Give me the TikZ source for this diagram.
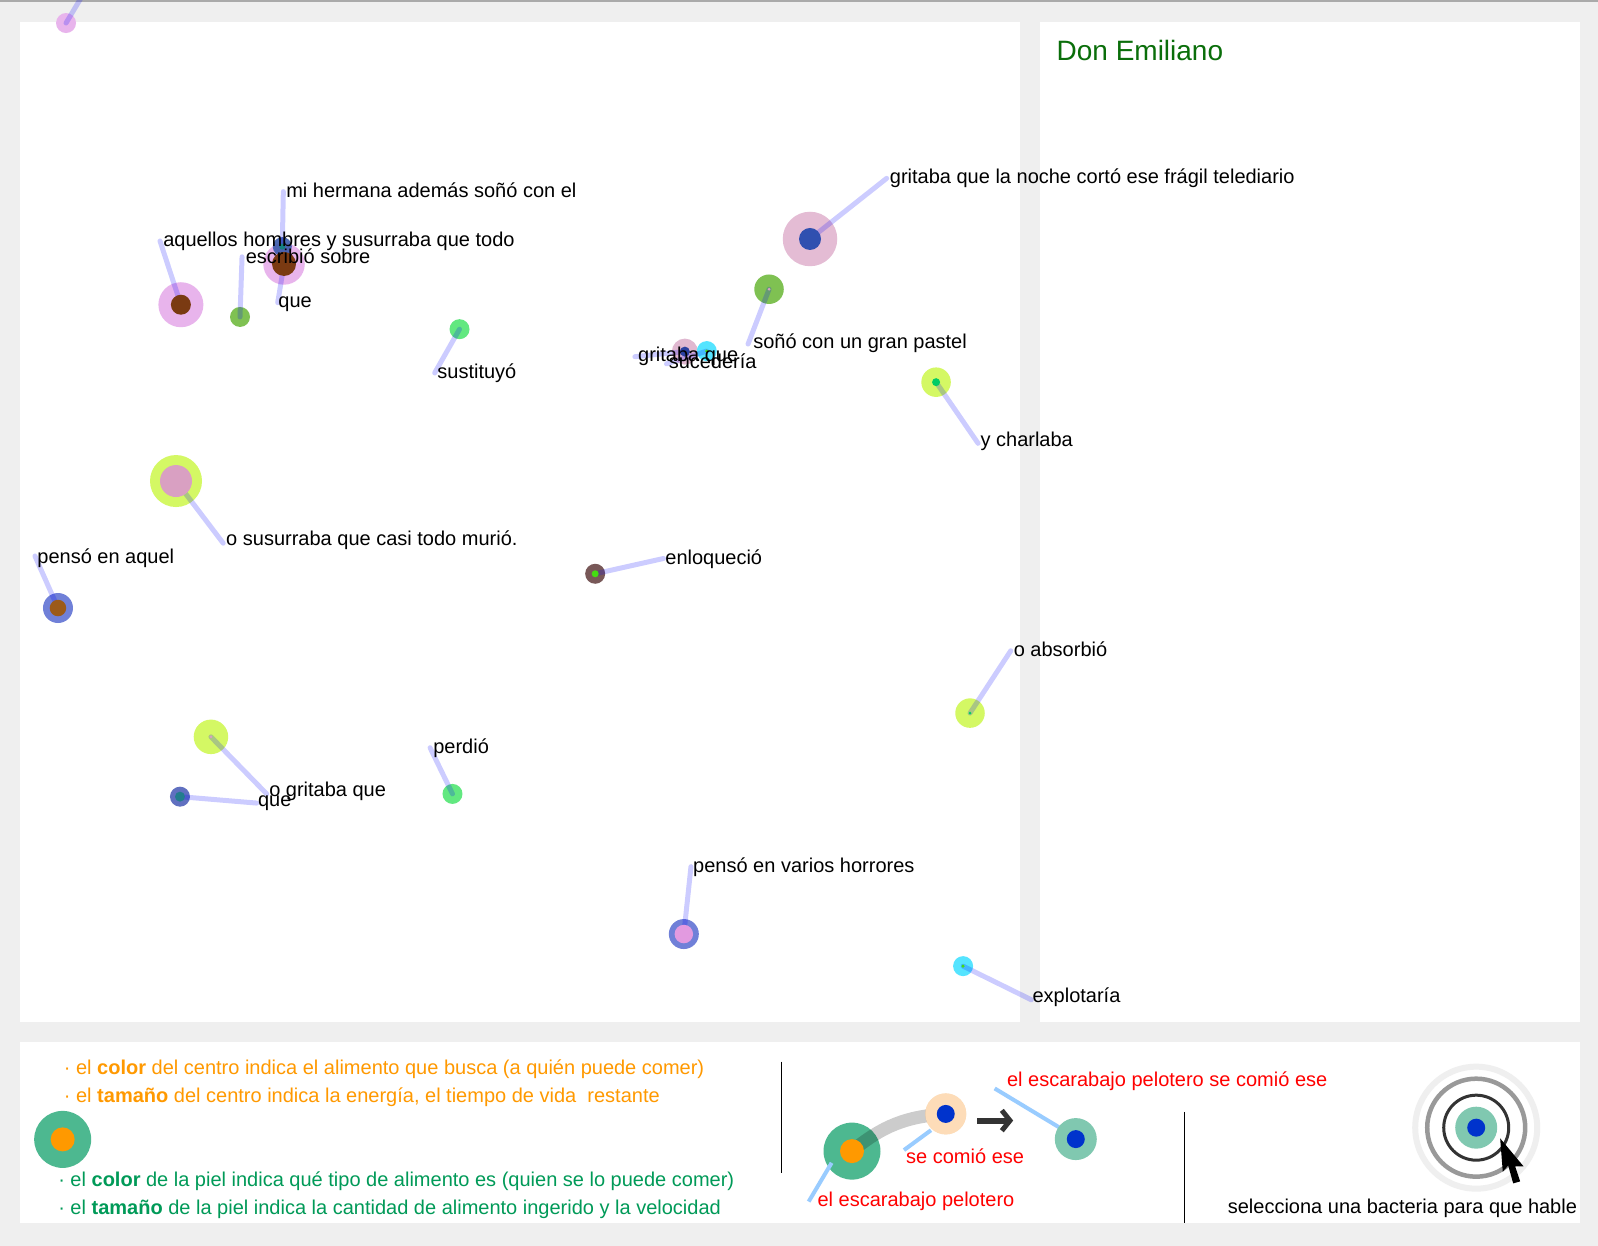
\documentclass[tikz,border=0pt]{standalone}
\usepackage{fontspec}
\setmainfont{Liberation Sans}
\definecolor{bg}{HTML}{EFEFEF}
\definecolor{topline}{HTML}{AAAAAA}
\definecolor{pinkA}{HTML}{E8B4EC}
\definecolor{pinkB}{HTML}{E4BCD4}
\definecolor{pinkC}{HTML}{E0B8D0}
\definecolor{brownCore}{HTML}{7A3A12}
\definecolor{blueSkinS}{HTML}{3A5AAA}
\definecolor{tealCore}{HTML}{138080}
\definecolor{greenS}{HTML}{7FC152}
\definecolor{brightG}{HTML}{62E880}
\definecolor{yellowG}{HTML}{D4F864}
\definecolor{pinkCore}{HTML}{D9A0C2}
\definecolor{blueSkin}{HTML}{7080D8}
\definecolor{brownCoreB}{HTML}{9C5A18}
\definecolor{pinkCoreB}{HTML}{E29AE0}
\definecolor{brownSkin}{HTML}{785858}
\definecolor{limeCore}{HTML}{44DD11}
\definecolor{cyanS}{HTML}{55E4FF}
\definecolor{blueSkinB}{HTML}{6070C0}
\definecolor{coreBlue}{HTML}{3050B0}
\definecolor{coreBlueB}{HTML}{2A40A0}
\definecolor{greenCore}{HTML}{00CC66}
\definecolor{legGreen}{HTML}{4DB890}
\definecolor{orangeC}{HTML}{FF9900}
\definecolor{peach}{HTML}{FDDCB8}
\definecolor{tealL}{HTML}{80C8B0}
\definecolor{coreB}{HTML}{0033CC}
\definecolor{lightblue}{HTML}{99CCFF}
\definecolor{txtGreen}{HTML}{009A58}
\definecolor{titleGreen}{HTML}{0A6E0A}
\definecolor{arrowGray}{HTML}{333333}
\newcommand{\bodyfont}{\fontsize{20pt}{24pt}\selectfont}
\begin{document}
\begin{tikzpicture}[x=1.0191pt,y=-1.0191pt,
  skin/.style={circle,inner sep=0pt,outer sep=0pt,draw=none},
  core/.style={circle,inner sep=0pt,outer sep=0pt,draw=none},
  link/.style={draw=blue,draw opacity=0.2,line width=5pt,line cap=round},
  lbl/.style={anchor=base west,inner sep=0pt,font=\bodyfont,text=black},
  legtxt/.style={anchor=base west,inner sep=0pt,font=\bodyfont},
  pointer/.style={draw=lightblue,line width=4pt},
  ring/.style={circle,inner sep=0pt,outer sep=0pt,fill=none},
  sepline/.style={draw=black,line width=1pt}]
\useasboundingbox (0,0) rectangle (1568,1222.6);
\fill[bg] (0,0) rectangle (1568,1222.6);
\fill[topline] (0,0) rectangle (1568,1.8);
\fill[white] (19.6,21.6) rectangle (1001,1003);
\fill[white] (1020.6,21.6) rectangle (1550,1003);
\fill[white] (19.6,1022.6) rectangle (1550,1199.8);

% ---------- skins ----------
\node[skin,fill=pinkA,minimum size=20pt] (b0) at (64.8,22.6) {};
\node[skin,fill=pinkA,minimum size=41.5pt] (b2) at (278.7,259) {};
\node[skin,fill=blueSkinS,fill opacity=0.9,minimum size=19pt] (b1) at (277,242) {};
\node[skin,fill=pinkA,minimum size=45pt] (b3) at (177.5,299) {};
\node[skin,fill=greenS,minimum size=20pt] (b4) at (235.5,311) {};
\node[skin,fill=brightG,minimum size=20pt] (b5) at (450.9,323) {};
\node[skin,fill=pinkC,minimum size=26pt] (b6) at (672,345) {};
\node[skin,fill=cyanS,minimum size=20pt] (b7) at (693.5,344.5) {};
\node[skin,fill=greenS,minimum size=29.5pt] (b8) at (754.6,283.8) {};
\node[skin,fill=pinkB,minimum size=54.5pt] (b9) at (794.8,234.5) {};
\node[skin,fill=yellowG,minimum size=29.5pt] (b10) at (918.5,375) {};
\node[skin,fill=yellowG,minimum size=52pt] (b11) at (172.7,472) {};
\node[skin,fill=blueSkin,minimum size=30pt] (b12) at (56.9,596.6) {};
\node[skin,fill=brownSkin,minimum size=20pt] (b13) at (584,563) {};
\node[skin,fill=yellowG,minimum size=29.5pt] (b14) at (951.8,699.7) {};
\node[skin,fill=brightG,minimum size=20pt] (b15) at (444,779) {};
\node[skin,fill=yellowG,minimum size=34.5pt] (b16) at (207,723) {};
\node[skin,fill=blueSkinB,minimum size=20pt] (b17) at (176.6,781.7) {};
\node[skin,fill=blueSkin,minimum size=30pt] (b18) at (671,916.5) {};
\node[skin,fill=cyanS,minimum size=20pt] (b19) at (945,948) {};

% ---------- link ends ----------
\coordinate (e0) at (82.4,-6.9);
\coordinate (e1) at (278,188);
\coordinate (e2) at (272.5,297);
\coordinate (e3) at (157,236.5);
\coordinate (e4) at (237.5,252);
\coordinate (e5) at (426.5,366);
\coordinate (e6) at (623,350);
\coordinate (e7) at (654,357);
\coordinate (e8) at (734,337.6);
\coordinate (e9) at (870,175);
\coordinate (e10) at (959.7,435);
\coordinate (e11) at (219,533);
\coordinate (e12) at (34.3,545.6);
\coordinate (e13) at (651,548);
\coordinate (e14) at (991.8,638.5);
\coordinate (e15) at (422,733.7);
\coordinate (e16) at (261.7,779);
\coordinate (e17) at (251.9,788);
\coordinate (e18) at (678,850.4);
\coordinate (e19) at (1012,981);

% ---------- links ----------
\foreach \i in {0,...,19} {\draw[link] (b\i.center) -- (e\i);}

% ---------- cores ----------
\node[core,fill=brownCore,minimum size=24pt] (c2) at (b2.center) {};
\node[core,fill=tealCore,minimum size=6pt] (c1) at (b1.center) {};
\node[core,fill=brownCore,minimum size=20pt] (c3) at (b3.center) {};
\node[core,fill=coreBlueB,minimum size=10pt] (c6) at (b6.center) {};
\node[core,fill=limeCore,minimum size=3.5pt] (c7) at (b7.center) {};
\node[core,fill=pinkCore,minimum size=3pt] (c8) at (b8.center) {};
\node[core,fill=coreBlue,minimum size=22pt] (c9) at (b9.center) {};
\node[core,fill=greenCore,minimum size=8pt] (c10) at (b10.center) {};
\node[core,fill=pinkCore,minimum size=32pt] (c11) at (b11.center) {};
\node[core,fill=brownCoreB,minimum size=16.5pt] (c12) at (b12.center) {};
\node[core,fill=limeCore,minimum size=7pt] (c13) at (b13.center) {};
\node[core,fill=greenCore,minimum size=3pt] (c14) at (b14.center) {};
\node[core,fill=pinkCore,minimum size=3pt] (c16) at (b16.center) {};
\node[core,fill=tealCore!80!blueSkinB,minimum size=10pt] (c17) at (b17.center) {};
\node[core,fill=pinkCoreB,minimum size=18.5pt] (c18) at (b18.center) {};
\node[core,fill=limeCore,minimum size=3.5pt] (c19) at (b19.center) {};

% ---------- labels ----------
\node[lbl] (t1) at (280.7,194) {mi hermana además soñó con el};
\node[lbl] (t3) at (160,242) {aquellos hombres y susurraba que todo};
\node[lbl] (t4) at (241,258.5) {escribió sobre};
\node[lbl] (t2) at (273,301.5) {que};
\node[lbl] (t5) at (429,371) {sustituyó};
\node[lbl] (t6) at (626,355) {gritaba que};
\node[lbl] (t7) at (656,362) {sucedería};
\node[lbl] (t8) at (739,341.7) {soñó con un gran pastel};
\node[lbl] (t9) at (873,180) {gritaba que la noche cortó ese frágil telediario};
\node[lbl] (t10) at (962,438) {y charlaba};
\node[lbl] (t11) at (221.8,534.8) {o susurraba que casi todo murió.};
\node[lbl] (t12) at (36.5,552.5) {pensó en aquel};
\node[lbl] (t13) at (652.7,553.5) {enloqueció};
\node[lbl] (t14) at (994.6,644.4) {o absorbió};
\node[lbl] (t15) at (425,739) {perdió};
\node[lbl] (t16) at (264,781.7) {o gritaba que};
\node[lbl] (t17) at (253,791) {que};
\node[lbl] (t18) at (680,856) {pensó en varios horrores};
\node[lbl] (t19) at (1013,984) {explotaría};

\node[anchor=base west,inner sep=0pt,font=\fontsize{28pt}{32pt}\selectfont,text=titleGreen] (title) at (1036.6,59) {Don Emiliano};

% ---------- legend ----------
\node[legtxt,text=orangeC] (l1) at (62.5,1054.5) {· el \textbf{color} del centro indica el alimento que busca (a quién puede comer)};
\node[legtxt,text=orangeC] (l2) at (62.5,1081.5) {· el \textbf{tamaño} del centro indica la energía, el tiempo de vida~ restante};
\node[legtxt,text=txtGreen] (l3) at (57,1164.5) {· el \textbf{color} de la piel indica qué tipo de alimento es (quien se lo puede comer)};
\node[legtxt,text=txtGreen] (l4) at (57,1191.5) {· el \textbf{tamaño} de la piel indica la cantidad de alimento ingerido y la velocidad};
\node[skin,fill=legGreen,minimum size=57pt] (lb) at (61.5,1118) {};
\node[core,fill=orangeC,minimum size=24pt] (lc) at (lb.center) {};

\coordinate (v1a) at (767,1041.8);
\coordinate (v1b) at (767,1150.7);
\coordinate (v2a) at (1162,1091);
\coordinate (v2b) at (1162,1200);
\draw[sepline] (v1a) -- (v1b);
\draw[sepline] (v2a) -- (v2b);

% eating example
\node[skin,fill=legGreen,minimum size=57pt] (bigG) at (836,1129.5) {};
\node[skin,fill=peach,minimum size=41pt] (peachB) at (928,1093) {};
\draw[black,draw opacity=0.2,line width=13pt] (bigG.center) to[bend left=18] (peachB.center);
\node[core,fill=orangeC,minimum size=24pt] (bigGc) at (bigG.center) {};
\node[skin,fill=peach,minimum size=41pt] (peachB2) at (peachB.center) {};
\node[core,fill=coreB,minimum size=18pt] (peachC) at (peachB.center) {};

\coordinate (p1a) at (913.5,1109);
\coordinate (p1b) at (887,1128.5);
\coordinate (p2a) at (816,1141);
\coordinate (p2b) at (793.5,1179);
\coordinate (p3a) at (976,1068);
\coordinate (p3b) at (1039,1106);
\draw[pointer] (p1a) -- (p1b);
\draw[pointer] (p2a) -- (p2b);
\draw[pointer] (p3a) -- (p3b);

\node[skin,fill=tealL,minimum size=42pt] (eaten) at (1055.6,1117.7) {};
\node[core,fill=coreB,minimum size=18pt] (eatenC) at (eaten.center) {};

\coordinate (a0) at (959,1099.5);
\coordinate (a1) at (991,1099.5);
\coordinate (a2) at (983,1089.5);
\coordinate (a3) at (983,1109.5);
\draw[arrowGray,line width=6pt] (a0) -- (a1);
\draw[arrowGray,line width=5pt,miter limit=3] (a2) -- (a1) -- (a3);

\node[legtxt,text=red] (r1) at (988,1066) {el escarabajo pelotero se comió ese};
\node[legtxt,text=red] (r2) at (889,1142) {se comió ese};
\node[legtxt,text=red] (r3) at (802,1184) {el escarabajo pelotero};

% select icon
\node[ring,draw=bg,line width=6pt,minimum size=122pt] (ring1) at (1448.5,1106.5) {};
\node[ring,draw=black!40,line width=4.5pt,minimum size=98pt] (ring2) at (ring1.center) {};
\node[ring,draw=arrowGray,line width=3pt,minimum size=65pt] (ring3) at (ring1.center) {};
\node[skin,fill=tealL,minimum size=42pt] (selB) at (ring1.center) {};
\node[core,fill=coreB,minimum size=18pt] (selC) at (ring1.center) {};
\coordinate (cur) at (1472,1117);
\fill[black] (cur) -- ++(2.6pt,-33.4pt) -- ++(5.4pt,6.4pt) -- ++(5pt,-18pt) -- ++(7pt,2pt) -- ++(-5pt,15pt) -- ++(8.4pt,0pt) -- cycle;

\node[legtxt,text=black] (sel) at (1204.6,1190.5) {selecciona una bacteria para que hable};
\end{tikzpicture}
\end{document}
